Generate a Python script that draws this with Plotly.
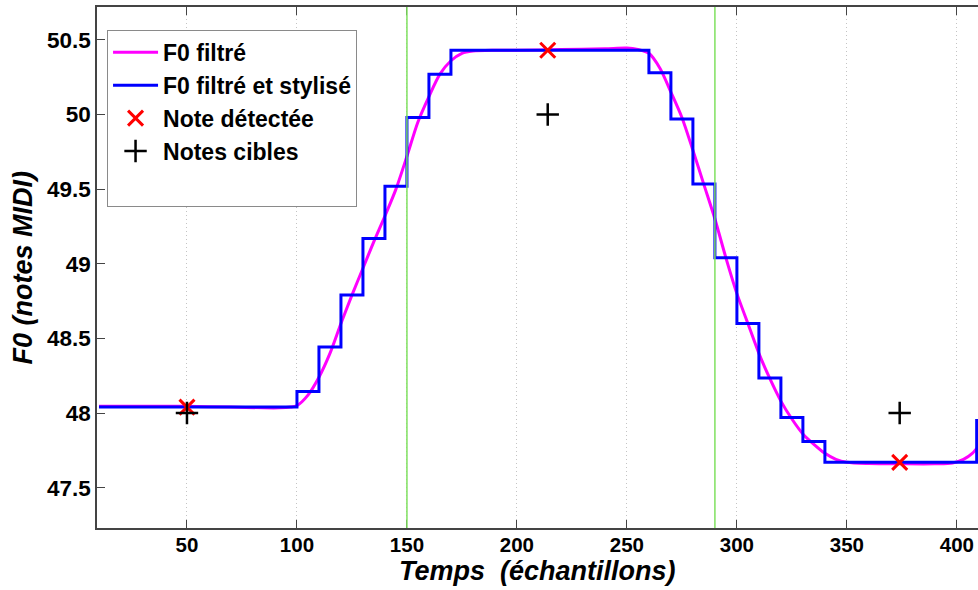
import plotly.graph_objects as go

# F0 filtered (magenta) - sample index and MIDI note values
f0_t = [10, 30, 50, 70, 85, 92, 97, 100, 105, 110, 115, 120, 125, 130, 135, 140,
        145, 150, 155, 160, 165, 170, 175, 180, 190, 200, 220, 240, 250, 255, 260,
        265, 270, 275, 280, 285, 290, 295, 300, 305, 310, 315, 320, 325, 330, 335,
        340, 345, 350, 360, 375, 390, 398, 403, 407, 411]
f0_v = [48.045, 48.046, 48.045, 48.04, 48.035, 48.035, 48.04, 48.05, 48.12, 48.24,
        48.40, 48.60, 48.79, 48.97, 49.15, 49.32, 49.50, 49.72, 49.95, 50.12, 50.27,
        50.36, 50.41, 50.425, 50.43, 50.43, 50.435, 50.44, 50.445, 50.435, 50.41,
        50.31, 50.15, 49.98, 49.76, 49.53, 49.30, 49.04, 48.80, 48.60, 48.40, 48.23,
        48.08, 47.96, 47.86, 47.79, 47.73, 47.69, 47.67, 47.662, 47.66, 47.66,
        47.665, 47.69, 47.73, 47.80]

# F0 filtered and stylised (blue step function): step start and value
sty_t = [10, 100, 110, 120, 130, 140, 150, 160, 170, 260, 270, 280, 290, 300,
         310, 320, 330, 340, 409, 415]
sty_v = [48.04, 48.145, 48.443, 48.79, 49.17, 49.52, 49.98, 50.27, 50.43, 50.28,
         49.97, 49.535, 49.04, 48.60, 48.235, 47.97, 47.81, 47.67, 47.95, 47.95]

# Detected notes and target notes
det_t = [50, 214, 374]
det_v = [48.04, 50.43, 47.67]
tgt_t = [50, 214, 374]
tgt_v = [48.0, 50.0, 48.0]

# Segment boundaries (green lines)
bounds = [150, 290]

x_ticks = [50, 100, 150, 200, 250, 300, 350, 400]
y_ticks = [47.5, 48, 48.5, 49, 49.5, 50, 50.5]
y_labels = ["47.5", "48", "48.5", "49", "49.5", "50", "50.5"]

FONT = "Liberation Sans, Arial, Helvetica, sans-serif"

fig = go.Figure()
fig.add_trace(go.Scatter(x=f0_t, y=f0_v, mode="lines", name="<b>F0 filtré</b>",
                         line=dict(color="#ff00ff", width=3, shape="spline", smoothing=0.8)))
fig.add_trace(go.Scatter(x=sty_t, y=sty_v, mode="lines", name="<b>F0 filtré et stylisé</b>",
                         line=dict(color="#0000ff", width=3, shape="hv")))
fig.add_trace(go.Scatter(x=det_t, y=det_v, mode="markers", name="<b>Note détectée</b>",
                         marker=dict(symbol="x-thin", size=15, line=dict(color="#ff0000", width=3))))
fig.add_trace(go.Scatter(x=tgt_t, y=tgt_v, mode="markers", name="<b>Notes cibles</b>",
                         marker=dict(symbol="cross-thin", size=16, line=dict(color="#000000", width=2.5))))
fig.add_trace(go.Scatter(x=[None], y=[None], mode="lines", name=" ",
                         line=dict(color="rgba(0,0,0,0)", width=0), hoverinfo="skip"))

for b in bounds:
    fig.add_vline(x=b, line=dict(color="#7fe05f", width=1.5), layer="above")

fig.update_layout(
    width=978, height=590,
    margin=dict(l=97, r=0, t=7, b=62),
    paper_bgcolor="white", plot_bgcolor="white",
    font=dict(family=FONT, color="black"),
    showlegend=True,
    legend=dict(x=0.0114, y=0.956, xanchor="left", yanchor="top",
                bgcolor="white", bordercolor="#8a8a8a", borderwidth=1,
                font=dict(size=23, family=FONT), itemwidth=45,
                traceorder="normal"),
    annotations=[
        dict(text="<b><i>F0 (notes MIDI)</i></b>", xref="paper", yref="paper",
             x=-0.084, y=0.5, xanchor="center", yanchor="middle", textangle=-90,
             showarrow=False, font=dict(size=27, family=FONT)),
        dict(text="<b><i>Temps  (échantillons)</i></b>", xref="paper", yref="paper",
             x=0.5, y=-0.083, xanchor="center", yanchor="middle",
             showarrow=False, font=dict(size=27, family=FONT)),
    ],
)

fig.update_xaxes(range=[9.1, 409.6], tickvals=x_ticks,
                 ticktext=[f"<b>{t}</b>" for t in x_ticks],
                 ticks="inside", ticklen=8,
                 tickcolor="#444", tickwidth=1, showline=True, linecolor="#444",
                 linewidth=1.5, mirror="ticks", showgrid=True, gridcolor="#c4c4c4",
                 griddash="1px,3px", gridwidth=1, zeroline=False,
                 tickfont=dict(size=20.5, family=FONT), ticklabelstandoff=-2)
fig.update_yaxes(range=[47.23, 50.72], tickvals=y_ticks, ticktext=[f"<b>{t}</b>" for t in y_labels],
                 ticks="inside", ticklen=8, tickcolor="#444", tickwidth=1, showline=True,
                 linecolor="#444", linewidth=1.5, showgrid=False, zeroline=False,
                 tickfont=dict(size=22.5, family=FONT), ticklabelstandoff=0)

fig.write_html("out.html", config={"displayModeBar": False},
               post_script="document.body.style.margin='0';document.body.style.padding='0';")
